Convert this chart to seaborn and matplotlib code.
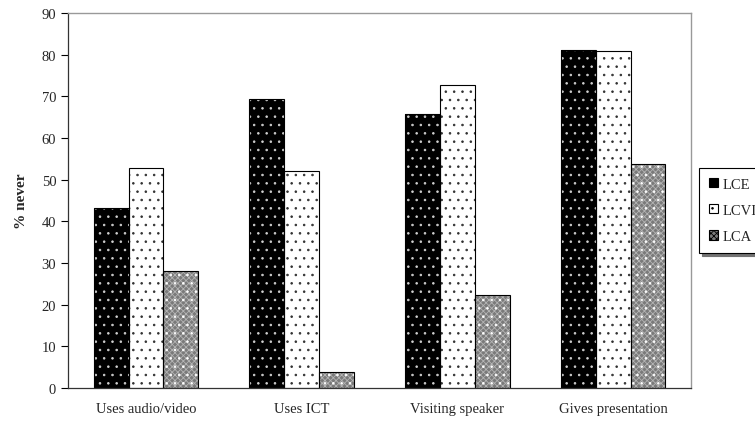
import matplotlib.pyplot as plt
import seaborn as sns
import pandas as pd
from matplotlib.patches import Rectangle

# values
activities = ['Uses audio/video', 'Uses ICT', 'Visiting speaker', 'Gives presentation']
groups = ['LCE', 'LCVI', 'LCA']
lce = [43.3, 69.3, 65.8, 81.1]
lcvi = [52.8, 52.0, 72.7, 80.8]
lca = [28.0, 3.8, 22.2, 53.8]

df = pd.DataFrame({
    'Activity': activities * 3,
    'Group': [g for g in groups for _ in activities],
    'Pct': lce + lcvi + lca,
})

sns.set_style('white')
plt.rcParams['font.family'] = ['Liberation Serif', 'DejaVu Serif']
plt.rcParams['hatch.linewidth'] = 0.6

fig = plt.figure(figsize=(7.55, 4.27), dpi=100)
ax = fig.add_axes([0.0901, 0.089, 0.8252, 0.8782])

fills = {'LCE': 'black', 'LCVI': 'white', 'LCA': '#7a7a7a'}
# (base hatch, base hatch colour, top hatch, top hatch colour)
hatch_style = {'LCE': ('..', '#d0d0d0', None, None),
               'LCVI': ('..', '#303030', None, None),
               'LCA': ('xxxxxx', '#b4b4b4', '..', 'white')}

sns.barplot(data=df, x='Activity', y='Pct', hue='Group', hue_order=groups,
            palette=fills, width=0.67, gap=0, saturation=1, ax=ax, legend=False)

# hatch each bar, optional second texture layer, then a black outline on top
for container, g in zip(ax.containers, groups):
    h, hc, h2, hc2 = hatch_style[g]
    for bar in container:
        bar.set_hatch(h)
        bar.set_edgecolor(hc)
        bar.set_linewidth(0)
        if h2:
            ax.add_patch(Rectangle(bar.get_xy(), bar.get_width(), bar.get_height(),
                                   fill=False, hatch=h2, edgecolor=hc2, linewidth=0))
        ax.add_patch(Rectangle(bar.get_xy(), bar.get_width(), bar.get_height(),
                               fill=False, edgecolor='black', linewidth=0.8))

ax.set_ylim(0, 90)
ax.set_xlim(-0.5, len(activities) - 0.5)
ax.set_yticks(range(0, 91, 10))
ax.set_xlabel('')
ax.set_ylabel('% never', fontsize=11, fontweight='bold', labelpad=10)

ax.set_xticks([i + 0.5 for i in range(-1, len(activities))], minor=True)
ax.tick_params(axis='x', which='major', length=0, labelsize=10.5, pad=10)
ax.tick_params(axis='x', which='minor', length=5, width=0.8, color='black', direction='out')
ax.tick_params(axis='y', length=5, width=0.8, color='black', direction='out', labelsize=10.5, left=True)

for side in ['left', 'bottom']:
    ax.spines[side].set_color('#333333')
    ax.spines[side].set_linewidth(0.9)
for side in ['top', 'right']:
    ax.spines[side].set_color('#999999')
    ax.spines[side].set_linewidth(1.0)

handles = [Rectangle((0, 0), 1, 1, facecolor=fills[g], hatch=hatch_style[g][0],
                     edgecolor='black', linewidth=0.8) for g in groups]
leg = fig.legend(handles, groups, loc='upper left', bbox_to_anchor=(0.926, 0.605),
                 frameon=True, fancybox=False, edgecolor='black', fontsize=10.5,
                 handlelength=0.6, handleheight=0.6, handletextpad=0.3,
                 labelspacing=0.9, borderpad=0.7, borderaxespad=0,
                 shadow={'color': '0.45', 'alpha': 1})
leg.get_frame().set_linewidth(0.8)

fig.savefig('out.png', dpi=100)
